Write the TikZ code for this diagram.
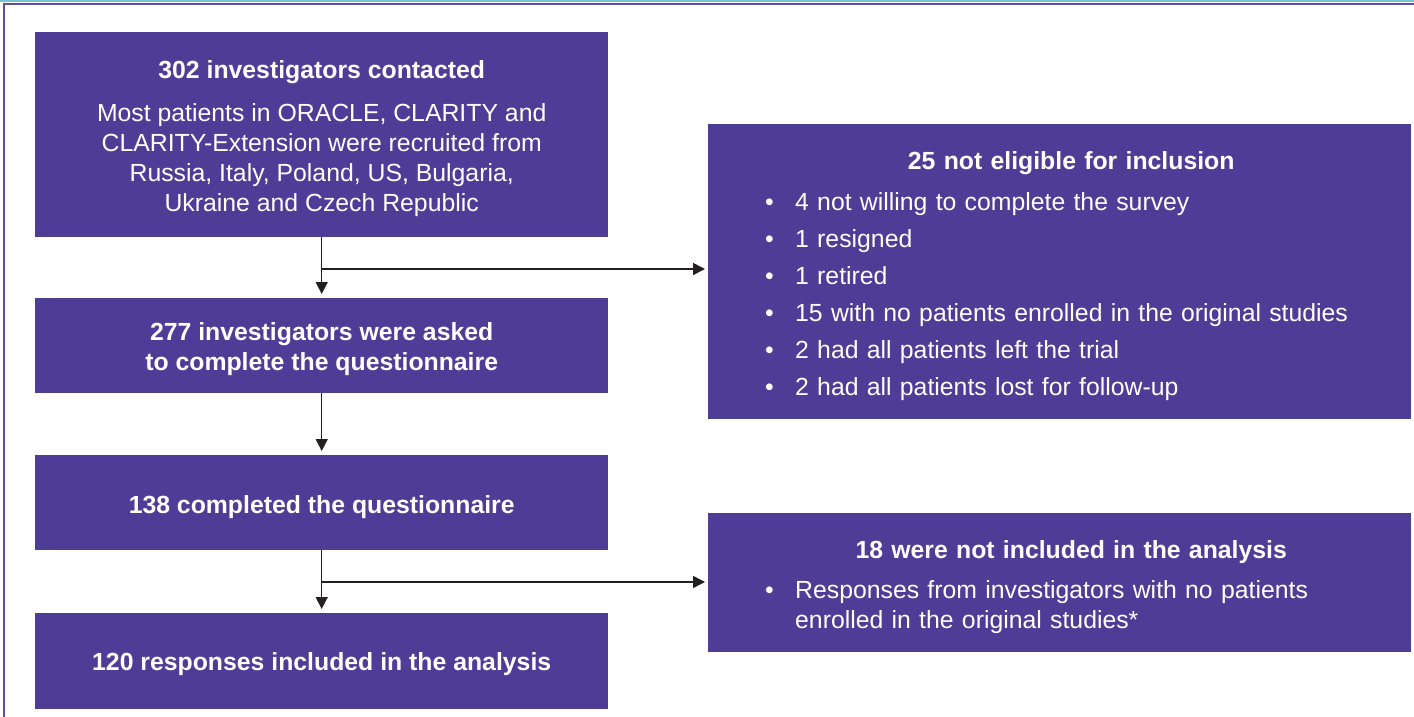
\documentclass[tikz,border=0pt]{standalone}
\usepackage{fontspec}
\setmainfont{Liberation Sans}
\usetikzlibrary{arrows.meta}

\definecolor{flowpurple}{RGB}{78,61,150}
\definecolor{framepurple}{RGB}{96,76,168}
\definecolor{frameteal}{RGB}{120,196,204}
\definecolor{arrowgray}{RGB}{35,31,32}

\newcommand{\flowitem}[1]{\par\vspace{7pt}\noindent\hangindent=30pt\hangafter=1\makebox[30pt][l]{\textbullet}#1}

\tikzset{
    flowbox/.style={fill=flowpurple, inner sep=0pt, minimum width=573, anchor=north west},
    flowtext/.style={text=white, inner sep=0pt, align=center, font=\fontsize{24.8}{30}\selectfont},
    boldtext/.style={flowtext, font=\fontsize{24.8}{30}\selectfont\bfseries},
    sidebox/.style={fill=flowpurple, inner sep=0pt, minimum width=703, anchor=north west},
    sidetext/.style={text=white, inner sep=0pt, text width=612, font=\fontsize{24.8}{30}\selectfont},
    flowarrow/.style={-{Triangle[length=12pt,width=12pt]}, line width=1.5pt, color=arrowgray, shorten >=4pt}
}

\begin{document}
\begin{tikzpicture}[x=1pt, y=-1pt]

        \useasboundingbox (0,0) rectangle (1414,717);

        % 1. Frame of the figure (top and left edge)
        \draw[frameteal, line width=2] (0,1) -- (1414,1);
        \draw[framepurple, line width=1.5] (4,717) -- (4,4) -- (1414,4);

        % 2. Main steps on the left
        \node[flowbox, minimum height=205] (contacted) at (35,32) {};
        \node[flowtext] (contactedtext) at ([yshift=-4pt]contacted.center)
            {\textbf{302 investigators contacted}\\[13pt]
             Most patients in ORACLE, CLARITY and\\
             CLARITY-Extension were recruited from\\
             Russia, Italy, Poland, US, Bulgaria,\\
             Ukraine and Czech Republic};
        \node[flowbox, minimum height=95] (asked) at (35,298) {};
        \node[boldtext] (askedtext) at ([yshift=-3pt]asked.center)
            {277 investigators were asked\\ to complete the questionnaire};
        \node[flowbox, minimum height=95] (completed) at (35,455) {};
        \node[boldtext] (completedtext) at ([yshift=-4pt]completed.center)
            {138 completed the questionnaire};
        \node[flowbox, minimum height=96] (included) at (35,613) {};
        \node[boldtext] (includedtext) at ([yshift=-3pt]included.center)
            {120 responses included in the analysis};

        % 3. Exclusions on the right
        \node[sidebox, minimum height=295] (noteligible) at (708,124) {};
        \node[sidetext] (noteligibletext) at ([xshift=11.5pt, yshift=-4pt]noteligible.center)
            {{\centering\bfseries 25 not eligible for inclusion\par}\vspace{4pt}
             \flowitem{4 not willing to complete the survey}
             \flowitem{1 resigned}
             \flowitem{1 retired}
             \flowitem{15 with no patients enrolled in the original studies}
             \flowitem{2 had all patients left the trial}
             \flowitem{2 had all patients lost for follow-up}\par};
        \node[sidebox, minimum height=139] (notincluded) at (708,513) {};
        \node[sidetext] (notincludedtext) at ([xshift=11.5pt, yshift=-4pt]notincluded.center)
            {{\centering\bfseries 18 were not included in the analysis\par}\vspace{3pt}
             \flowitem{Responses from investigators with no patients\newline
                       enrolled in the original studies*}\par};

        % 4. Arrows between the steps
        \coordinate (split1) at (contacted.south |- 0,269);
        \coordinate (split2) at (completed.south |- 0,582);
        \draw[flowarrow] (contacted.south) -- (asked.north);
        \draw[flowarrow] (asked.south) -- (completed.north);
        \draw[flowarrow] (completed.south) -- (included.north);
        \draw[flowarrow, shorten >=3pt] (split1) -- (split1 -| noteligible.west);
        \draw[flowarrow, shorten >=3pt] (split2) -- (split2 -| notincluded.west);

    \end{tikzpicture}
\end{document}
